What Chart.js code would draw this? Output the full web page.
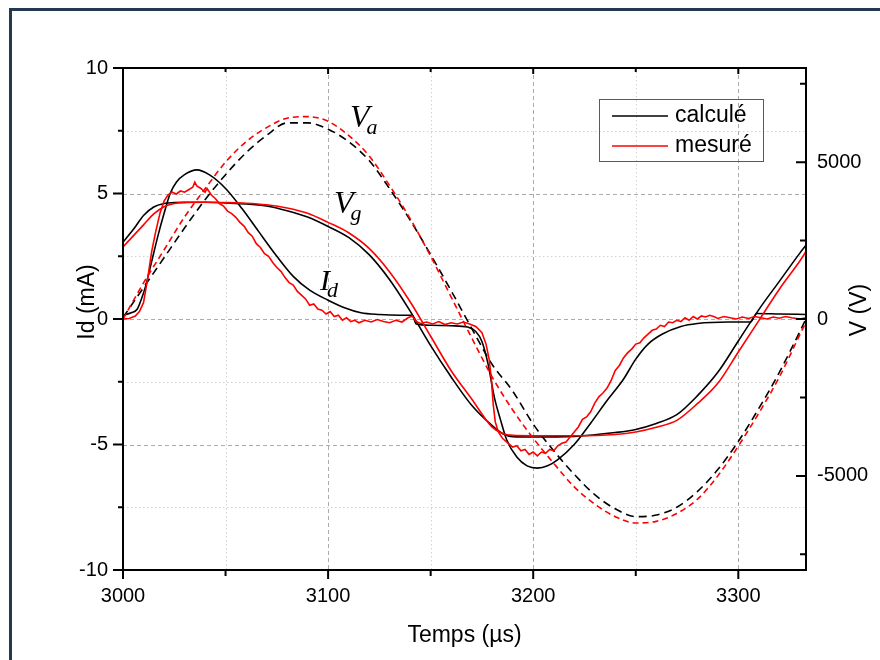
<!DOCTYPE html>
<html>
<head>
<meta charset="utf-8">
<script src="https://cdn.jsdelivr.net/npm/chart.js@4.4.0/dist/chart.umd.min.js"></script>
<style>
  html, body { margin: 0; padding: 0; background: #fff; }
  #wrap { position: relative; width: 880px; height: 660px; overflow: hidden; }
  #border { position: absolute; left: 9px; top: 8px; width: 900px; height: 700px;
            border-left: 3px solid #233a4e; border-top: 3px solid #233a4e; }
  canvas { position: absolute; left: 0; top: 0; }
</style>
</head>
<body>
<div id="wrap"><div id="border"></div><canvas id="c" width="880" height="660"></canvas></div>
<script>
// ticks (major ones get a label)
const xTicks = [3000, 3050, 3100, 3150, 3200, 3250, 3300];
const xTickLabels = [3000, 3100, 3200, 3300];
const idTicks = [-10, -7.5, -5, -2.5, 0, 2.5, 5, 7.5, 10];
const idTickLabels = [-10, -5, 0, 5, 10];
const vTicks = [-7500, -5000, -2500, 0, 2500, 5000, 7500];
const vTickLabels = [-5000, 0, 5000];

// Va (V), calcule / mesure
const vaTime = [3000, 3010, 3020, 3030, 3040, 3050, 3060, 3070, 3080, 3090, 3100, 3110, 3120, 3130, 3140, 3150, 3160, 3170,
  3180, 3190, 3200, 3210, 3220, 3230, 3240, 3250, 3260, 3270, 3280, 3290, 3300, 3310, 3320, 3330, 3333];
const vaCalc = [50, 1000, 1950, 2900, 3800, 4600, 5300, 5850, 6250, 6250, 6050, 5650, 5050, 4150, 3150, 2050, 900, -300,
  -1450, -2300, -3350, -4200, -4950, -5600, -6050, -6300, -6250, -6000, -5500, -4800, -3900, -2850, -1700, -400, 0];
const vaMes = [0, 1150, 2200, 3250, 4150, 5000, 5650, 6100, 6400, 6450, 6300, 5850, 5200, 4250, 3200, 2000, 700, -600,
  -1850, -2900, -3800, -4600, -5350, -5900, -6300, -6500, -6450, -6200, -5750, -5000, -4050, -3000, -1850, -500, -100];

// Vg (V), calcule / mesure
const vgTime = [3000, 3005, 3010, 3015, 3020, 3025, 3030, 3040, 3050, 3060, 3070, 3080, 3090, 3100, 3110, 3120, 3130, 3140,
  3150, 3160, 3170, 3180, 3185, 3190, 3200, 3220, 3240, 3250, 3260, 3270, 3280, 3290, 3300, 3310, 3320, 3330, 3333];
const vgCalc = [2450, 2850, 3300, 3570, 3680, 3710, 3720, 3720, 3700, 3670, 3600, 3450, 3250, 2950, 2600, 2050, 1250, 250,
  -850, -1850, -2750, -3400, -3650, -3750, -3760, -3740, -3620, -3520, -3330, -3050, -2450, -1700, -700, 300, 1200, 2100, 2350];
const vgMes = [2300, 2650, 3000, 3350, 3580, 3680, 3710, 3720, 3710, 3690, 3640, 3540, 3370, 3080, 2750, 2250, 1500, 550,
  -550, -1650, -2550, -3450, -3650, -3710, -3720, -3720, -3680, -3600, -3450, -3230, -2700, -2050, -1050, -50, 950, 1850, 2150];

// Id (mA), calcule
const idCalcTime = [3000, 3004, 3007, 3009, 3011, 3014, 3017, 3020, 3023, 3026, 3030, 3036, 3042, 3050, 3058, 3066, 3075,
  3083, 3091, 3100, 3108, 3116, 3125, 3135, 3141, 3143, 3150, 3160, 3168, 3172, 3175, 3178, 3181, 3184, 3187, 3192, 3197,
  3202, 3207, 3212, 3220, 3228, 3236, 3244, 3250, 3256, 3263, 3272, 3280, 3295, 3306, 3309, 3320, 3333];
const idCalc = [0.15, 0.25, 0.4, 0.8, 1.3, 2.3, 3.3, 4.2, 5.0, 5.45, 5.75, 5.94, 5.75, 5.2, 4.4, 3.5, 2.5,
  1.7, 1.15, 0.75, 0.45, 0.25, 0.18, 0.15, 0.15, -0.2, -0.25, -0.27, -0.32, -0.5, -0.9, -1.8, -3.1, -4.0, -4.8, -5.5, -5.85,
  -5.94, -5.85, -5.6, -5.0, -4.15, -3.25, -2.4, -1.6, -1.0, -0.6, -0.3, -0.18, -0.12, -0.12, 0.22, 0.2, 0.18];

// Id (mA), mesure
const idMesTime = [3000, 3003, 3006, 3008, 3010, 3012, 3014, 3016, 3018, 3020, 3022, 3024, 3026, 3028, 3030, 3032, 3034,
  3035, 3036, 3038, 3040, 3041, 3043, 3045, 3047, 3049, 3051, 3053, 3055, 3057, 3059, 3061, 3063, 3065, 3067, 3069, 3071,
  3073, 3075, 3077, 3079, 3081, 3083, 3085, 3087, 3089, 3091, 3093, 3095, 3097, 3099, 3101, 3103, 3105, 3107, 3109, 3111,
  3113, 3115, 3118, 3121, 3124, 3127, 3130, 3133, 3136, 3139, 3141, 3143, 3145, 3148, 3151, 3154, 3157, 3160, 3163, 3166,
  3169, 3172, 3175, 3177, 3178.5, 3179.5, 3180.5, 3181.5, 3183, 3185, 3187, 3190, 3192, 3194, 3196, 3198, 3200, 3202, 3204,
  3206, 3208, 3210, 3212, 3214, 3216, 3218, 3220, 3222, 3224, 3226, 3228, 3230, 3232, 3234, 3236, 3238, 3240, 3242, 3244,
  3246, 3248, 3250, 3252, 3254, 3256, 3258, 3260, 3262, 3264, 3266, 3268, 3270, 3272, 3274, 3276, 3278, 3280, 3282, 3284,
  3286, 3288, 3290, 3293, 3296, 3299, 3302, 3305, 3308, 3311, 3314, 3317, 3320, 3323, 3326, 3330, 3333];
const idMes = [0.0, 0.02, 0.12, 0.3, 0.65, 1.6, 2.7, 3.5, 4.2, 4.7, 4.95, 5.05, 4.98, 5.1, 5.05, 5.15, 5.25,
  5.45, 5.3, 5.2, 5.05, 5.2, 4.95, 4.8, 4.6, 4.5, 4.3, 4.2, 4.05, 3.85, 3.7, 3.45, 3.3, 3.0, 2.85, 2.6, 2.5,
  2.25, 2.05, 1.9, 1.65, 1.45, 1.35, 1.1, 0.95, 0.8, 0.55, 0.6, 0.4, 0.35, 0.2, 0.3, 0.1, 0.15, -0.05, 0.05, -0.1,
  -0.05, -0.15, -0.05, -0.12, -0.02, -0.1, -0.15, -0.05, -0.12, 0.05, 0.12, -0.1, -0.18, -0.12, -0.2, -0.1, -0.22, -0.15, -0.2, -0.12,
  -0.2, -0.3, -0.55, -1.0, -1.6, -2.3, -3.4, -4.1, -4.5, -4.75, -4.9, -5.1, -5.05, -5.25, -5.2, -5.4, -5.3, -5.45, -5.3,
  -5.35, -5.2, -5.25, -5.05, -4.95, -4.9, -4.7, -4.5, -4.3, -4.0, -3.9, -3.7, -3.35, -3.1, -2.95, -2.75, -2.45, -2.05, -1.85, -1.55,
  -1.35, -1.2, -1.0, -0.95, -0.75, -0.6, -0.45, -0.4, -0.25, -0.3, -0.12, -0.15, -0.05, -0.1, 0.05, -0.05, 0.1, 0.0, 0.12, 0.08,
  0.15, 0.1, 0.02, 0.1, 0.05, 0.0, 0.08, 0.02, 0.1, 0.05, 0.0, 0.08, 0.03, 0.1, 0.05, 0.0, 0.05];

const pts = (ts, vs) => ts.map((t, i) => ({ x: t, y: vs[i] }));
const fixTicks = list => s => { s.ticks = list.map(v => ({ value: v })); };
const RED = '#ff0000';
const BLACK = '#000000';
const sans = '"Liberation Sans", Arial, sans-serif';
const serif = '"Liberation Serif", "Times New Roman", serif';

// gridlines, frame and tick marks
const axisDeco = {
  id: 'axisDeco',
  beforeDatasetsDraw(chart) {
    const { ctx, chartArea: a, scales: { x, y } } = chart;
    ctx.save();
    ctx.lineWidth = 1;
    x.ticks.forEach(tk => {
      if (tk.value <= x.min || tk.value >= x.max) return;
      const px = Math.round(x.getPixelForValue(tk.value)) + 0.5;
      const major = tk.value % 100 === 0;
      ctx.strokeStyle = major ? '#ababab' : '#d2d2d2';
      ctx.setLineDash(major ? [4, 3] : [1.5, 2.5]);
      ctx.beginPath(); ctx.moveTo(px, a.top); ctx.lineTo(px, a.bottom); ctx.stroke();
    });
    y.ticks.forEach(tk => {
      if (tk.value <= y.min || tk.value >= y.max) return;
      const py = Math.round(y.getPixelForValue(tk.value)) + 0.5;
      const major = tk.value % 5 === 0;
      ctx.strokeStyle = major ? '#ababab' : '#d2d2d2';
      ctx.setLineDash(major ? [4, 3] : [1.5, 2.5]);
      ctx.beginPath(); ctx.moveTo(a.left, py); ctx.lineTo(a.right, py); ctx.stroke();
    });
    ctx.restore();
  },
  afterDatasetsDraw(chart) {
    const { ctx, chartArea: a, scales: { x, y, y1 } } = chart;
    ctx.save();
    ctx.strokeStyle = '#000';
    ctx.lineWidth = 2;
    ctx.strokeRect(a.left, a.top, a.right - a.left, a.bottom - a.top);
    ctx.beginPath();
    x.ticks.forEach(tk => {
      const px = x.getPixelForValue(tk.value);
      const major = tk.value % 100 === 0;
      ctx.moveTo(px, a.bottom); ctx.lineTo(px, a.bottom + (major ? 9 : 6));
      ctx.moveTo(px, a.top); ctx.lineTo(px, a.top + (major ? 6 : 4));
    });
    y.ticks.forEach(tk => {
      const py = y.getPixelForValue(tk.value);
      const major = tk.value % 5 === 0;
      ctx.moveTo(a.left, py); ctx.lineTo(a.left - (major ? 10 : 5), py);
    });
    y1.ticks.forEach(tk => {
      const py = y1.getPixelForValue(tk.value);
      const major = tk.value % 5000 === 0;
      ctx.moveTo(a.right, py); ctx.lineTo(a.right - (major ? 10 : 6), py);
    });
    ctx.stroke();
    ctx.restore();
  },
  afterDraw(chart) {
    const { ctx, chartArea: a, scales: { x, y } } = chart;
    ctx.save();
    ctx.fillStyle = '#000';
    // axis titles
    ctx.font = '23px ' + sans;
    ctx.textAlign = 'center';
    ctx.textBaseline = 'middle';
    ctx.fillText('Temps (µs)', (a.left + a.right) / 2, 636);
    ctx.save(); ctx.translate(88, 302); ctx.rotate(-Math.PI / 2);
    ctx.fillText('Id (mA)', 0, 0); ctx.restore();
    ctx.save(); ctx.translate(860, 310); ctx.rotate(-Math.PI / 2);
    ctx.fillText('V (V)', 0, 0); ctx.restore();

    // curve labels
    ctx.textAlign = 'left';
    ctx.textBaseline = 'alphabetic';
    const lab = (main, sub, t, v, big) => {
      const px = x.getPixelForValue(t), py = y.getPixelForValue(v);
      ctx.font = 'italic ' + big + 'px ' + serif;
      ctx.fillText(main, px, py);
      const w = ctx.measureText(main).width;
      ctx.font = 'italic 22px ' + serif;
      ctx.fillText(sub, px + w - 3, py + 7);
    };
    lab('V', 'a', 3110.7, 7.65, 32);
    lab('V', 'g', 3102.9, 4.22, 32);
    lab('I', 'd', 3096.1, 1.16, 30);

    // legend
    ctx.strokeStyle = '#5a5a5a';
    ctx.lineWidth = 1;
    ctx.strokeRect(599.5, 99.5, 164, 62);
    ctx.lineWidth = 1.6;
    ctx.strokeStyle = BLACK;
    ctx.beginPath(); ctx.moveTo(612, 116); ctx.lineTo(668, 116); ctx.stroke();
    ctx.strokeStyle = RED;
    ctx.beginPath(); ctx.moveTo(612, 146); ctx.lineTo(668, 146); ctx.stroke();
    ctx.font = '23px ' + sans;
    ctx.textBaseline = 'middle';
    ctx.fillText('calculé', 675, 116);
    ctx.fillText('mesuré', 675, 146);
    ctx.restore();
  }
};

const line = (label, data, color, axis, dash, smooth) => ({
  label, data, borderColor: color, backgroundColor: color, yAxisID: axis,
  borderWidth: 1.6, borderDash: dash, pointRadius: 0, fill: false,
  cubicInterpolationMode: smooth ? 'monotone' : 'default', tension: 0
});

new Chart(document.getElementById('c'), {
  type: 'line',
  data: {
    datasets: [
      line('Id mesuré', pts(idMesTime, idMes), RED, 'y', [], false),
      line('Vg mesuré', pts(vgTime, vgMes), RED, 'y1', [], true),
      line('Va mesuré', pts(vaTime, vaMes), RED, 'y1', [6, 4], true),
      line('Id calculé', pts(idCalcTime, idCalc), BLACK, 'y', [], true),
      line('Vg calculé', pts(vgTime, vgCalc), BLACK, 'y1', [], true),
      line('Va calculé', pts(vaTime, vaCalc), BLACK, 'y1', [8, 5], true)
    ]
  },
  options: {
    responsive: false,
    animation: false,
    layout: { padding: { top: 68, left: 0, right: 0, bottom: 0 } },
    plugins: { legend: { display: false }, tooltip: { enabled: false } },
    scales: {
      x: {
        type: 'linear', min: 3000, max: 3333,
        grid: { display: false, drawTicks: false }, border: { display: false },
        ticks: {
          padding: 14, color: '#000', maxRotation: 0, autoSkip: false,
          font: { family: sans, size: 20 },
          callback: v => xTickLabels.includes(v) ? String(v) : ''
        },
        afterBuildTicks: fixTicks(xTicks),
        afterFit: s => { s.height = 90; }
      },
      y: {
        position: 'left', min: -10, max: 10,
        grid: { display: false, drawTicks: false }, border: { display: false },
        ticks: {
          padding: 15, color: '#000', autoSkip: false,
          font: { family: sans, size: 20 },
          callback: v => idTickLabels.includes(v) ? String(v) : ''
        },
        afterBuildTicks: fixTicks(idTicks),
        afterFit: s => { s.width = 123; }
      },
      y1: {
        position: 'right', min: -8000, max: 8000,
        grid: { display: false, drawTicks: false }, border: { display: false },
        ticks: {
          padding: 11, color: '#000', autoSkip: false,
          font: { family: sans, size: 20 },
          callback: v => vTickLabels.includes(v) ? String(v) : ''
        },
        afterBuildTicks: fixTicks(vTicks),
        afterFit: s => { s.width = 74; }
      }
    }
  },
  plugins: [axisDeco]
});
</script>
</body>
</html>
